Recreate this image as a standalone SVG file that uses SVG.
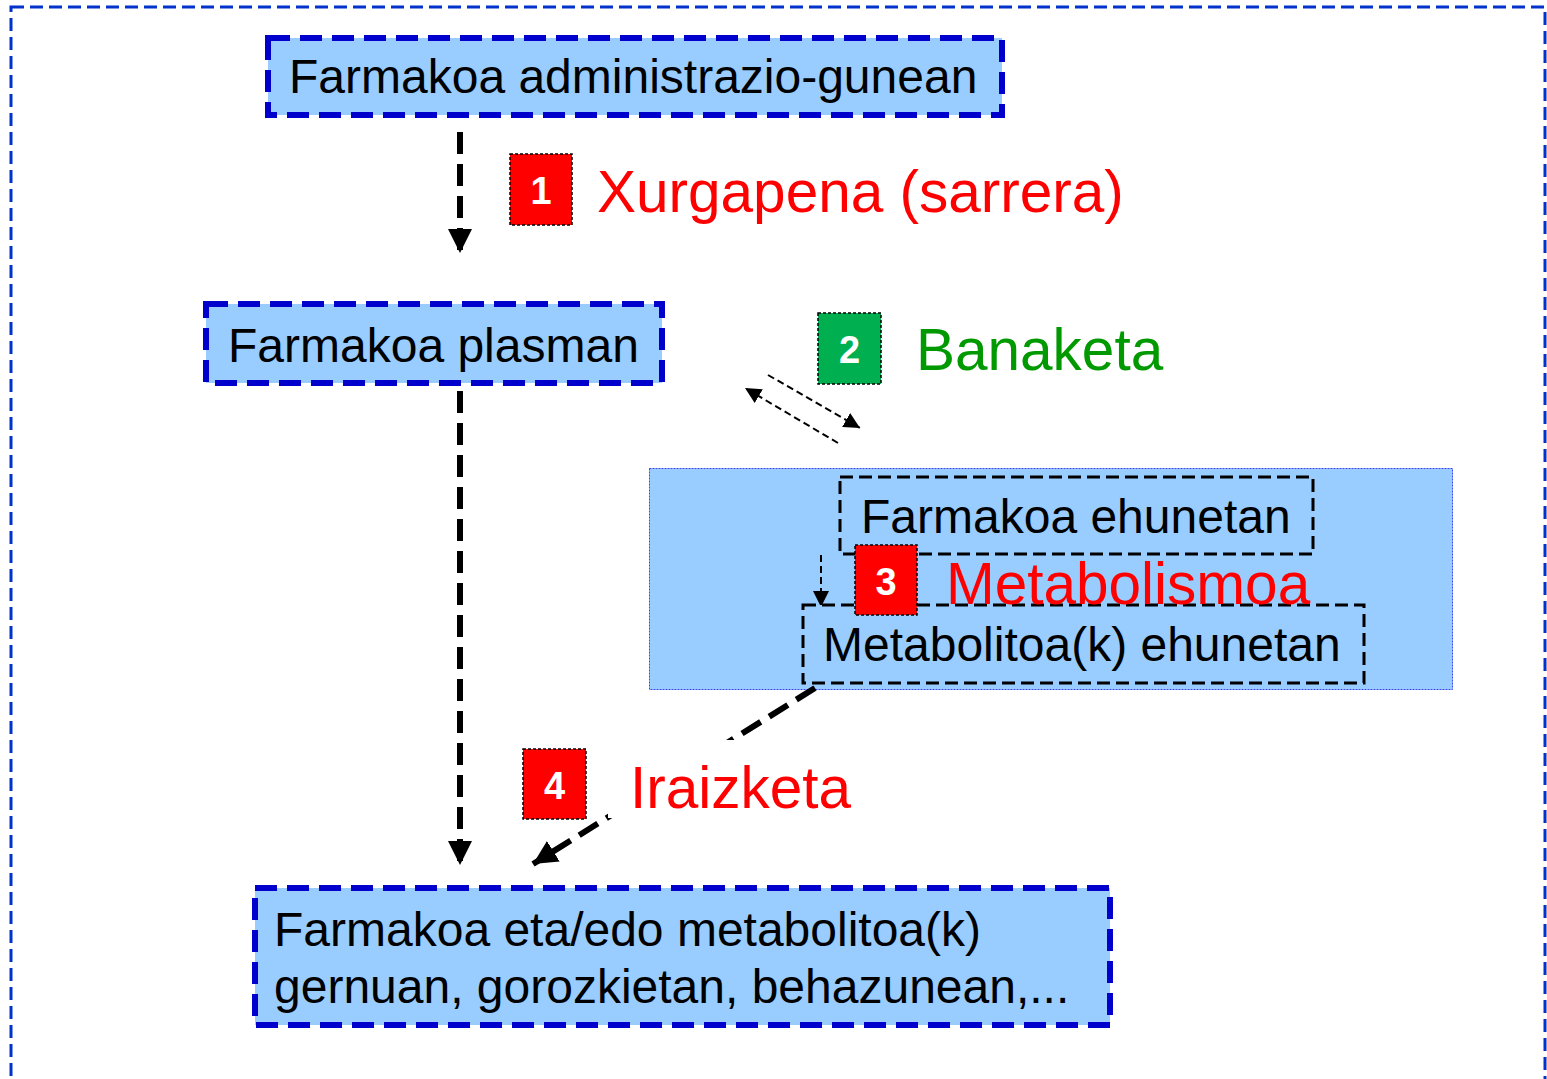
<svg xmlns="http://www.w3.org/2000/svg" width="1547" height="1079" viewBox="0 0 1547 1079">
<defs>
<style>
.t{font-family:"Liberation Sans",Arial,sans-serif;fill:#000;font-size:48px}
.lab{font-family:"Liberation Sans",Arial,sans-serif;font-size:58.5px}
.bt{font-family:"Liberation Sans",Arial,sans-serif;font-size:38px;font-weight:bold;fill:#fff;text-anchor:middle}
.bnode{fill:#99ccff;stroke:#0000cc;stroke-width:6;stroke-dasharray:22 10}
.knode{fill:#99ccff;stroke:#000;stroke-width:3;stroke-dasharray:13 6}
.badge{stroke:#000;stroke-width:1.5;stroke-dasharray:3 2}
.thick{stroke:#000;stroke-width:6;stroke-dasharray:22 10;fill:none}
.thin{stroke:#000;stroke-width:2;stroke-dasharray:7 4;fill:none}
</style>
<marker id="ah" viewBox="0 0 10 10" refX="10" refY="5" markerWidth="4" markerHeight="4" markerUnits="strokeWidth" orient="auto">
<path d="M0,0 L10,5 L0,10 z" fill="#000"/>
</marker>
<marker id="ahs" viewBox="0 0 10 10" refX="10" refY="5" markerWidth="8" markerHeight="8" markerUnits="strokeWidth" orient="auto">
<path d="M0,0 L10,5 L0,10 z" fill="#000"/>
</marker>
</defs>
<rect x="0" y="0" width="1547" height="1079" fill="#fff"/>
<rect id="frame" x="11" y="7" width="1534" height="1100" fill="none" stroke="#0033cc" stroke-width="3" stroke-dasharray="13 6"/>

<g id="tissue-area">
<rect x="649.5" y="468.5" width="803" height="221" fill="#99ccff" stroke="#3344ee" stroke-width="1" stroke-dasharray="2 1"/>
</g>

<g id="connectors">
<line class="thick" x1="460" y1="132" x2="460" y2="253" marker-end="url(#ah)"/>
<line class="thick" x1="460" y1="391" x2="460" y2="865" marker-end="url(#ah)"/>
<line class="thin" x1="768" y1="375" x2="860" y2="428" marker-end="url(#ahs)"/>
<line class="thin" x1="838" y1="443" x2="745" y2="388" marker-end="url(#ahs)"/>
<line class="thin" x1="821" y1="555" x2="821" y2="607" marker-end="url(#ahs)"/>
<line class="thick" x1="815" y1="688" x2="533" y2="864" marker-end="url(#ah)"/>
</g>

<g id="node-admin">
<rect class="bnode" x="268" y="38" width="734" height="77"/>
<text class="t" x="289" y="93">Farmakoa administrazio-gunean</text>
</g>

<g id="node-plasma">
<rect class="bnode" x="206" y="304" width="456" height="79"/>
<text class="t" x="228" y="362">Farmakoa plasman</text>
</g>

<g id="node-tissue">
<rect class="knode" x="840" y="477" width="473" height="77"/>
<text class="t" x="861" y="533">Farmakoa ehunetan</text>
</g>

<g id="node-metabolite">
<rect class="knode" x="803" y="605" width="561" height="78"/>
<text class="t" x="823" y="661">Metabolitoa(k) ehunetan</text>
</g>

<g id="node-excreta">
<rect class="bnode" x="255" y="888" width="855" height="137"/>
<text class="t" x="274" y="946">Farmakoa eta/edo metabolitoa(k)</text>
<text class="t" x="274" y="1003">gernuan, gorozkietan, behazunean,...</text>
</g>

<g id="label-1">
<rect class="badge" x="510" y="154" width="62" height="71" fill="#ff0000"/>
<text class="bt" x="541" y="204">1</text>
<text class="lab" x="597" y="212" fill="#ff0000">Xurgapena (sarrera)</text>
</g>

<g id="label-2">
<rect class="badge" x="818" y="313" width="63" height="71" fill="#00b050"/>
<text class="bt" x="849.5" y="363">2</text>
<text class="lab" x="916" y="370" fill="#009900">Banaketa</text>
</g>

<g id="label-3">
<rect class="badge" x="855" y="545" width="62" height="70" fill="#ff0000"/>
<text class="bt" x="886" y="595">3</text>
<text class="lab" x="946" y="604" fill="#ff0000">Metabolismoa</text>
</g>

<g id="label-4">
<rect x="608" y="740" width="245" height="78" fill="#fff"/>
<rect class="badge" x="523" y="749" width="63" height="70" fill="#ff0000"/>
<text class="bt" x="554.5" y="799">4</text>
<text class="lab" x="630" y="808" fill="#ff0000">Iraizketa</text>
</g>
</svg>
